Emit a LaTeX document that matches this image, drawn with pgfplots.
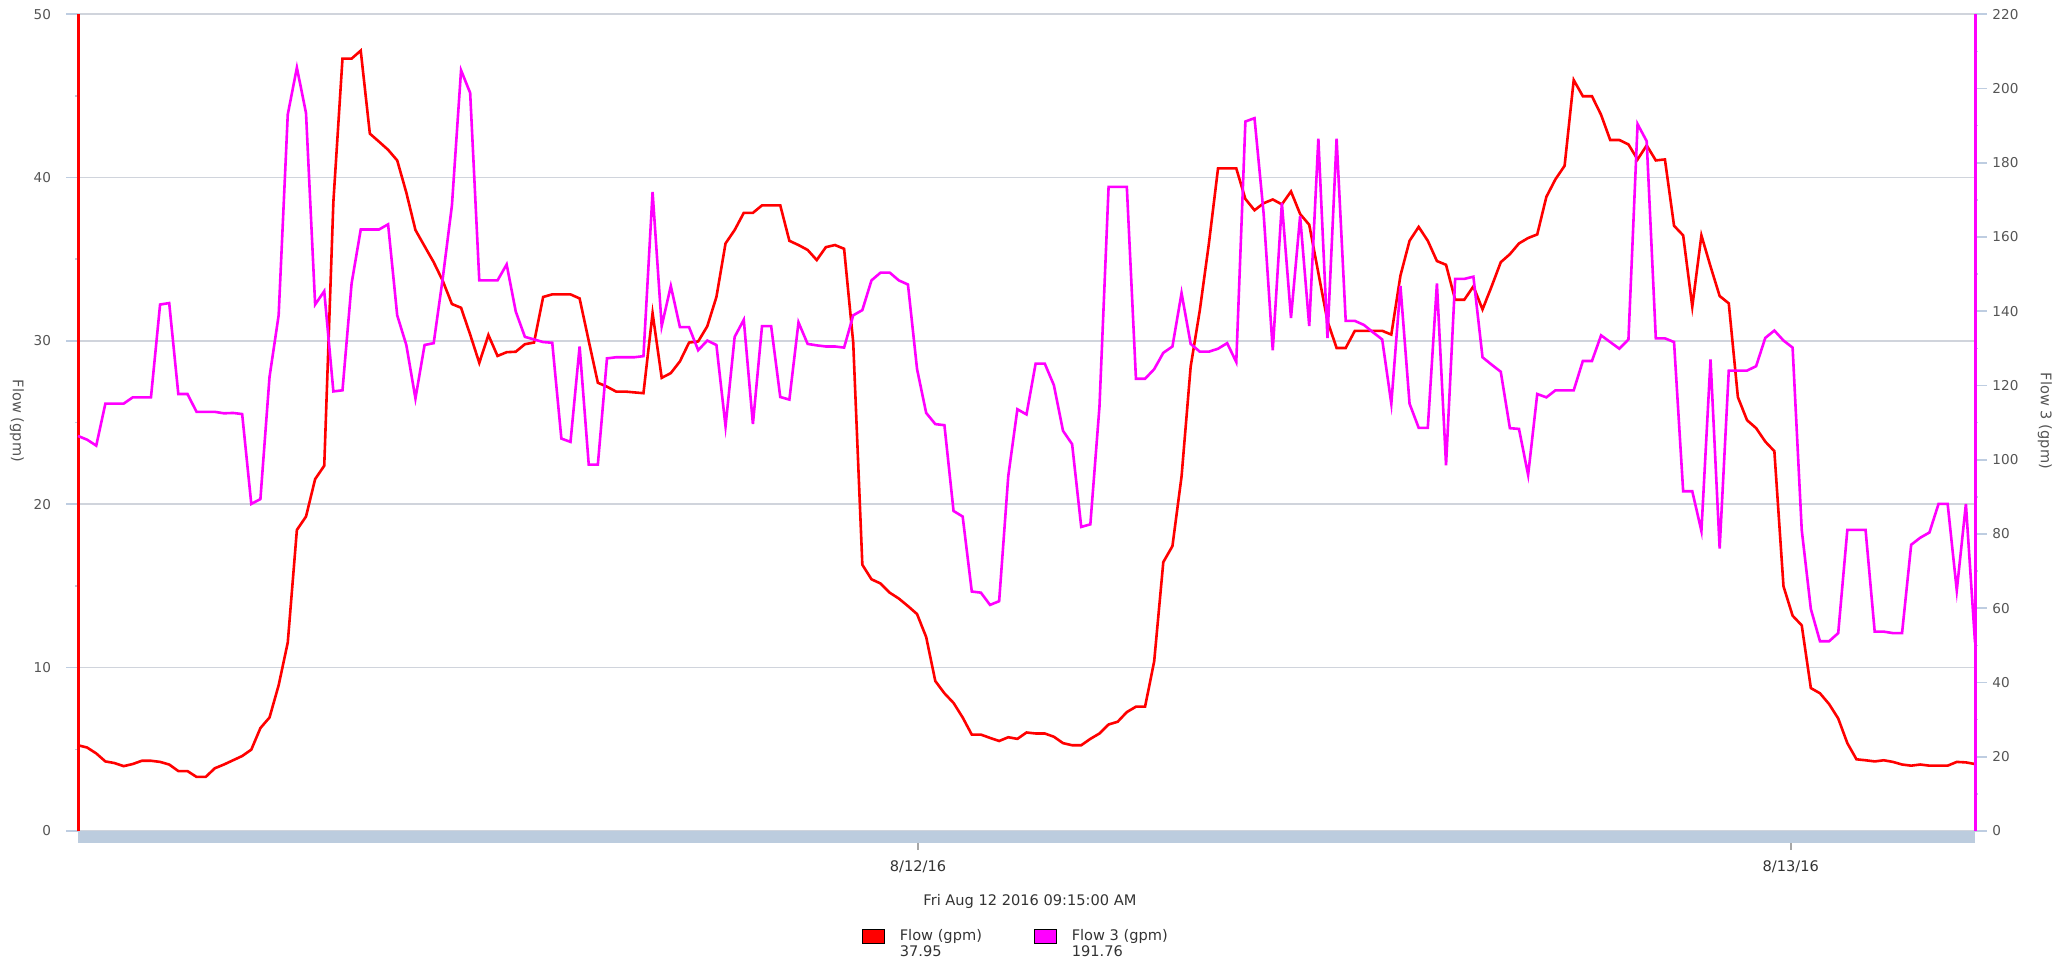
\documentclass[border=0pt]{standalone}
\usepackage{fontspec}
\setmainfont{DejaVu Sans}
\usepackage{pgfplots}
\usepackage{pgfplotstable}
\pgfplotsset{compat=1.18}

\definecolor{gridc}{RGB}{208,212,220}
\definecolor{tickc}{RGB}{190,205,225}
\definecolor{barc}{RGB}{188,204,222}
\definecolor{labc}{RGB}{85,85,85}
\definecolor{txtc}{RGB}{51,51,51}
\definecolor{flowred}{RGB}{255,0,0}
\definecolor{flowmag}{RGB}{255,0,255}

\pgfplotstableread{
i f
0 5.25
1 5.11
2 4.75
3 4.26
4 4.16
5 3.97
6 4.10
7 4.30
8 4.30
9 4.23
10 4.07
11 3.67
12 3.67
13 3.31
14 3.31
15 3.84
16 4.07
17 4.33
18 4.59
19 4.98
20 6.30
21 6.95
22 8.92
23 11.54
24 18.43
25 19.25
26 21.54
27 22.36
28 38.5
29 47.28
30 47.28
31 47.77
32 42.69
33 42.2
34 41.7
35 41.05
36 39.08
37 36.79
38 35.8
39 34.82
40 33.67
41 32.26
42 32.03
43 30.39
44 28.66
45 30.36
46 29.08
47 29.31
48 29.34
49 29.8
50 29.9
51 32.69
52 32.85
53 32.85
54 32.85
55 32.6
56 30.0
57 27.44
58 27.2
59 26.9
60 26.9
61 26.85
62 26.8
63 31.7
64 27.74
65 28.03
66 28.75
67 29.9
68 29.97
69 30.9
70 32.69
71 35.97
72 36.79
73 37.84
74 37.84
75 38.3
76 38.3
77 38.3
78 36.13
79 35.87
80 35.57
81 34.95
82 35.74
83 35.87
84 35.64
85 29.9
86 16.3
87 15.41
88 15.15
89 14.59
90 14.23
91 13.77
92 13.28
93 11.87
94 9.18
95 8.43
96 7.84
97 6.95
98 5.9
99 5.9
100 5.7
101 5.51
102 5.74
103 5.64
104 6.03
105 5.97
106 5.97
107 5.77
108 5.38
109 5.25
110 5.25
111 5.64
112 5.97
113 6.52
114 6.69
115 7.28
116 7.61
117 7.61
118 10.39
119 16.46
120 17.44
121 21.7
122 28.43
123 31.87
124 35.97
125 40.56
126 40.56
127 40.56
128 38.69
129 38.0
130 38.43
131 38.66
132 38.36
133 39.15
134 37.77
135 37.11
136 34.16
137 31.21
138 29.57
139 29.57
140 30.62
141 30.62
142 30.62
143 30.62
144 30.39
145 34.0
146 36.13
147 36.98
148 36.13
149 34.89
150 34.66
151 32.52
152 32.52
153 33.34
154 31.93
155 33.34
156 34.82
157 35.31
158 35.97
159 36.3
160 36.52
161 38.82
162 39.9
163 40.72
164 45.97
165 44.98
166 44.98
167 43.84
168 42.3
169 42.3
170 42.03
171 41.11
172 41.97
173 41.05
174 41.11
175 37.05
176 36.46
177 32.1
178 36.46
179 34.56
180 32.75
181 32.3
182 26.56
183 25.15
184 24.66
185 23.84
186 23.25
187 14.98
188 13.18
189 12.59
190 8.75
191 8.43
192 7.77
193 6.89
194 5.38
195 4.39
196 4.33
197 4.26
198 4.33
199 4.23
200 4.07
201 4.0
202 4.07
203 4.0
204 4.0
205 4.0
206 4.23
207 4.2
208 4.1
}\flowdata

\pgfplotstableread{
i f
0 106.4
1 105.4
2 103.8
3 115.1
4 115.1
5 115.1
6 116.8
7 116.8
8 116.8
9 141.8
10 142.2
11 117.7
12 117.7
13 112.9
14 112.9
15 112.9
16 112.5
17 112.6
18 112.3
19 88.1
20 89.4
21 122.3
22 138.9
23 193.0
24 205.6
25 193.4
26 141.8
27 145.4
28 118.4
29 118.7
30 147.5
31 162.0
32 162.0
33 162.0
34 163.4
35 138.9
36 130.9
37 116.5
38 130.9
39 131.4
40 149.0
41 168.5
42 204.9
43 198.8
44 148.3
45 148.3
46 148.3
47 152.6
48 139.9
49 133.1
50 132.4
51 131.7
52 131.5
53 105.7
54 104.8
55 130.5
56 98.7
57 98.7
58 127.3
59 127.6
60 127.6
61 127.6
62 127.9
63 172.1
64 136.0
65 146.8
66 135.7
67 135.7
68 129.5
69 132.1
70 130.9
71 109.0
72 133.1
73 137.7
74 109.6
75 136.0
76 136.0
77 116.9
78 116.2
79 137.0
80 131.2
81 130.8
82 130.5
83 130.5
84 130.2
85 138.9
86 140.3
87 148.3
88 150.4
89 150.4
90 148.3
91 147.2
92 124.4
93 112.6
94 109.6
95 109.3
96 86.2
97 84.7
98 64.5
99 64.2
100 60.9
101 61.9
102 95.6
103 113.6
104 112.2
105 125.9
106 125.9
107 120.1
108 107.8
109 104.2
110 81.9
111 82.6
112 114.3
113 173.5
114 173.5
115 173.5
116 121.8
117 121.8
118 124.4
119 128.8
120 130.5
121 144.9
122 131.2
123 129.1
124 129.1
125 129.9
126 131.4
127 126.3
128 191.1
129 192.0
130 166.3
131 129.5
132 169.2
133 138.2
134 165.6
135 136.0
136 186.5
137 132.8
138 186.5
139 137.4
140 137.4
141 136.3
142 134.3
143 132.4
144 115.1
145 146.8
146 115.1
147 108.6
148 108.6
149 147.5
150 98.5
151 148.7
152 148.7
153 149.3
154 127.6
155 125.6
156 123.7
157 108.5
158 108.3
159 95.9
160 117.7
161 116.8
162 118.7
163 118.7
164 118.7
165 126.6
166 126.6
167 133.5
168 131.7
169 129.9
170 132.4
171 190.4
172 185.8
173 132.7
174 132.7
175 131.7
176 91.5
177 91.5
178 80.8
179 127.0
180 76.1
181 124.0
182 124.0
183 124.0
184 125.2
185 132.8
186 134.8
187 132.1
188 130.2
189 81.1
190 59.8
191 51.1
192 51.1
193 53.3
194 81.1
195 81.1
196 81.1
197 53.7
198 53.7
199 53.3
200 53.3
201 77.1
202 79.0
203 80.4
204 88.1
205 88.1
206 64.8
207 88.1
208 50.8
}\flowthree

\begin{document}
\begin{tikzpicture}
\useasboundingbox (0,0) rectangle (1030.5pt,483pt);
% left axis: Flow (gpm)
\begin{axis}[
  at={(39pt,67.5pt)}, anchor=south west,
  scale only axis, width=948.5pt, height=408.4pt,
  xmin=0, xmax=208, ymin=0, ymax=50,
  clip=false,
  axis y line*=left, axis x line*=bottom,
  y axis line style={draw=none},
  x axis line style={draw=none},
  ytick={0,10,...,50},
  minor ytick={5,15,...,45},
  ymajorgrids,
  major grid style={gridc, line width=0.8pt},
  tick align=outside,
  major tick length=6pt,
  minor tick length=1.4pt,
  ytick style={tickc, line width=0.8pt},
  minor tick style={white!60!tickc, line width=0.9pt},
  xtick={92.1,187.8},
  xticklabels={8/12/16,8/13/16},
  xtick style={gray!70, line width=0.8pt, yshift=-3.5pt},
  /pgf/number format/assume math mode=true,
  yticklabel style={font=\fontsize{6.8}{8}\selectfont, text=labc, xshift=-4pt},
  xticklabel style={font=\fontsize{7.3}{8.5}\selectfont, text=txtc, yshift=-5.3pt},
  ylabel={Flow (gpm)},
  ylabel style={at={(axis description cs:-0.03216,0.502)}, anchor=center, rotate=180,
    font=\fontsize{7.3}{8.5}\selectfont, text=labc},
  xlabel={Fri Aug 12 2016 09:15:00 AM},
  xlabel style={at={(axis description cs:0.5018,-0.0857)}, anchor=center,
    font=\fontsize{7.3}{8.5}\selectfont, text=txtc},
  legend style={draw=none, fill=none, legend columns=2,
    at={(axis description cs:0.4133,-0.1195)}, anchor=north west,
    inner sep=0pt, outer sep=0pt,
    font=\fontsize{7.3}{8.3}\selectfont, text=txtc,
    cells={anchor=north west, align=left},
    nodes={inner sep=0pt},
    column sep=7.5pt,
    /tikz/every even column/.append style={column sep=26pt}},
  legend image code/.code={\fill[#1] (0pt,-7pt) rectangle (11pt,0pt);},
]
\draw[flowred, line width=1.5pt] (axis cs:0,0) -- (axis cs:0,50);
\addplot[flowred, line width=1.3pt, forget plot] table[x=i, y=f] {\flowdata};
\addlegendimage{fill=flowred}
\addlegendentry{Flow (gpm)\\37.95}
\addlegendimage{fill=flowmag}
\addlegendentry{Flow 3 (gpm)\\191.76}
\fill[barc] (axis cs:0,0) rectangle ([yshift=-5.9pt]axis cs:208,0);
\end{axis}
% right axis: Flow 3 (gpm)
\begin{axis}[
  at={(39pt,67.5pt)}, anchor=south west,
  scale only axis, width=948.5pt, height=408.4pt,
  xmin=0, xmax=208, ymin=0, ymax=220,
  clip=false,
  axis y line*=right, axis x line=none,
  y axis line style={draw=none},
  ytick={0,20,...,220},
  minor ytick={10,30,...,210},
  tick align=outside,
  major tick length=6pt,
  minor tick length=1.4pt,
  ytick style={tickc, line width=0.8pt},
  minor tick style={white!60!tickc, line width=0.9pt},
  /pgf/number format/assume math mode=true,
  yticklabel style={font=\fontsize{6.8}{8}\selectfont, text=labc, xshift=-0.8pt},
  ylabel={Flow 3 (gpm)},
  ylabel style={at={(axis description cs:1.0369,0.502)}, anchor=center, rotate=180,
    font=\fontsize{7.3}{8.5}\selectfont, text=labc},
]
\draw[flowmag, line width=1.5pt] (axis cs:208,0) -- (axis cs:208,220);
\addplot[flowmag, line width=1.3pt] table[x=i, y=f] {\flowthree};
\end{axis}
\end{tikzpicture}
\end{document}
